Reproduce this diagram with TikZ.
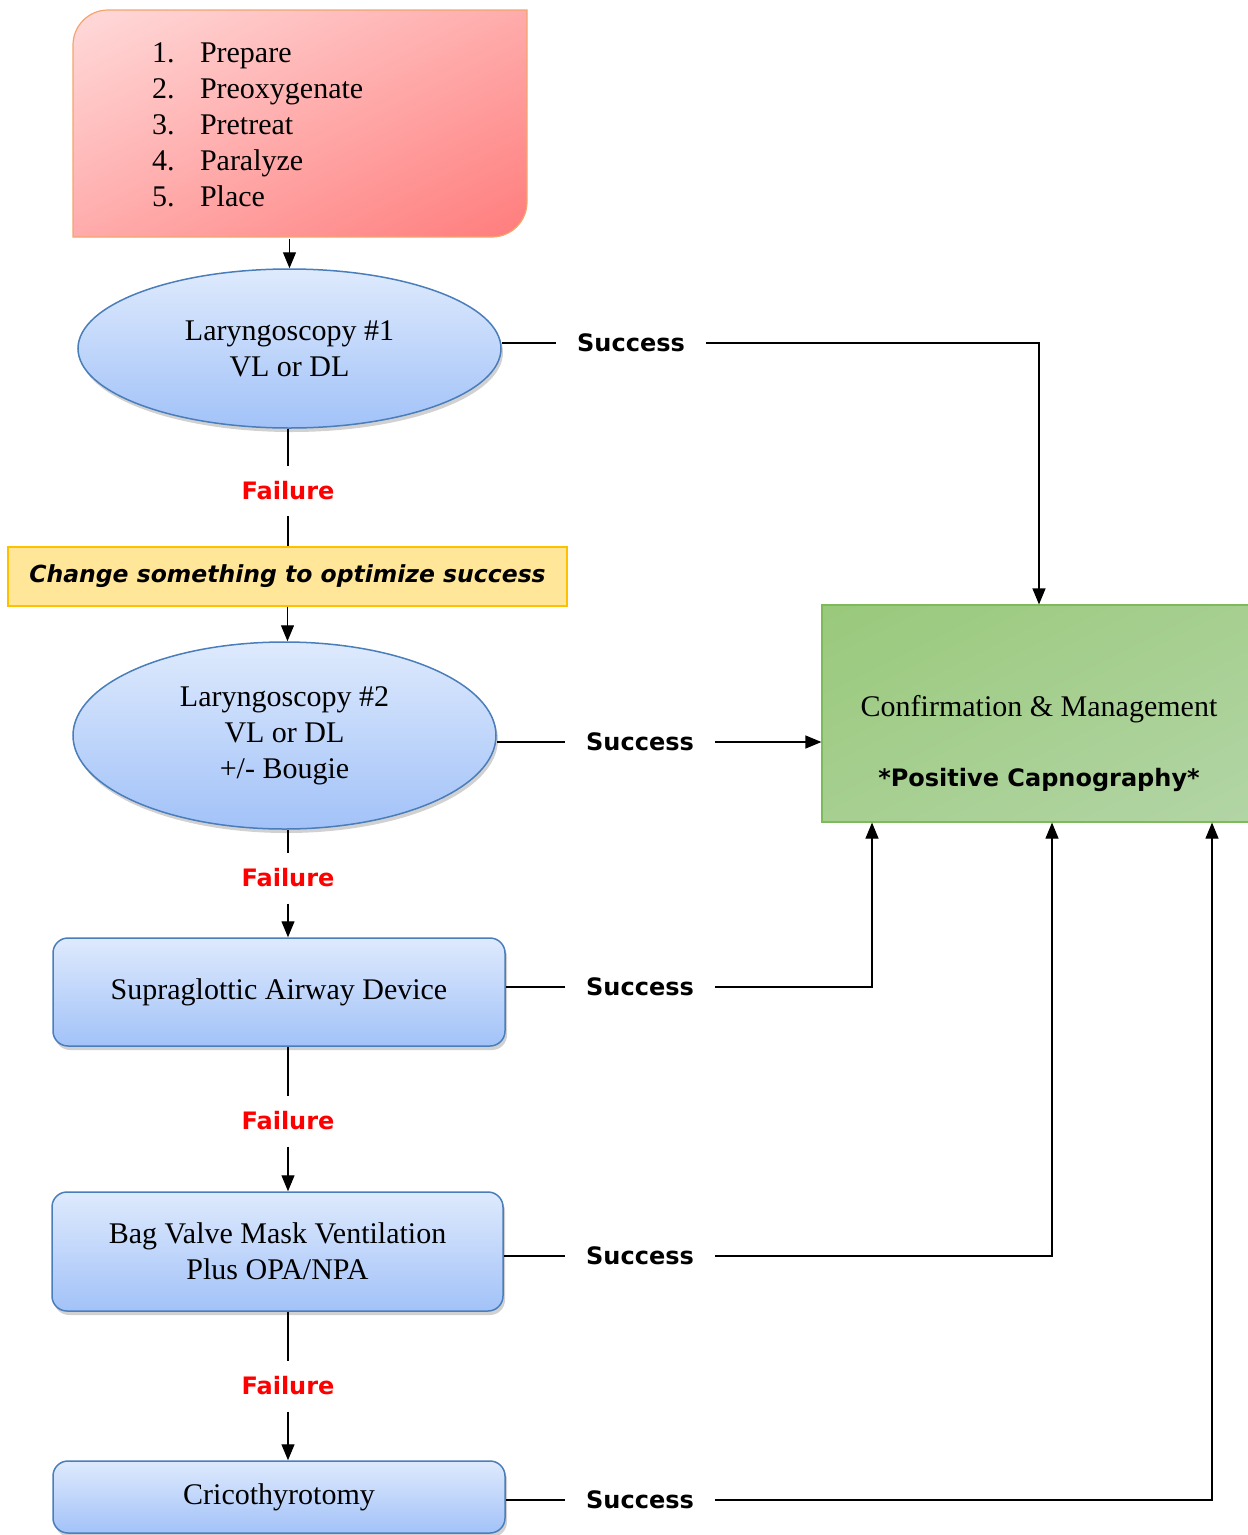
\documentclass[tikz,border=0pt]{standalone}
\usepackage{fontspec}
\setmainfont{Liberation Serif}
\newfontfamily\lblfont{DejaVu Sans}
\usetikzlibrary{shapes.geometric,arrows.meta,shadows,shadings,calc}

\definecolor{pinkA}{HTML}{FFDADA}
\definecolor{pinkB}{HTML}{FF7C7C}
\definecolor{pinkE}{HTML}{F4A46E}
\definecolor{blueA}{HTML}{DEEAFD}
\definecolor{blueB}{HTML}{A2C2F8}
\definecolor{blueE}{HTML}{4A7EBB}
\definecolor{yelF}{HTML}{FFE699}
\definecolor{yelE}{HTML}{FFC000}
\definecolor{grnA}{HTML}{99C97B}
\definecolor{grnB}{HTML}{B3D5A6}
\definecolor{grnE}{HTML}{7DBA5A}

\begin{document}
\begin{tikzpicture}[x=1pt,y=-1pt,
  serif/.style={font=\fontsize{30}{36}\selectfont},
  sansb/.style={font=\lblfont\bfseries\fontsize{24}{28}\selectfont},
  bluefill/.style={draw=blueE, line width=1.5pt, top color=blueA, bottom color=blueB,
    drop shadow={shadow xshift=2pt, shadow yshift=-4pt, opacity=0.3, fill=black!60}},
  ovalbox/.style={ellipse, bluefill, inner sep=0pt, serif, align=center},
  stepbox/.style={rectangle, rounded corners=15pt, bluefill, inner sep=0pt, serif, align=center},
  succ/.style={sansb, inner xsep=21pt, inner ysep=4pt},
  fail/.style={sansb, text=red, inner xsep=4pt, inner ysep=16pt},
  conn/.style={line width=1.2pt},
  arr/.style={conn, -{Triangle[length=16pt,width=13pt]}},
]
\useasboundingbox (0,0) rectangle (1248,1535);

% top box shape
\shade[draw=pinkE, line width=1.2pt, upper left=pinkA, lower right=pinkB,
  upper right=pinkA!50!pinkB, lower left=pinkA!50!pinkB]
  (73,237) -- (73,45) .. controls (73,25.7) and (88.7,10) .. (108,10)
  -- (527,10) -- (527,202) .. controls (527,221.3) and (511.3,237) .. (492,237) -- cycle;
\node[minimum width=454pt, minimum height=227pt, inner xsep=79pt, inner ysep=0pt,
  text width=296pt, align=left, serif] (p) at (300,125)
  {\makebox[48pt][l]{1.}Prepare\\
   \makebox[48pt][l]{2.}Preoxygenate\\
   \makebox[48pt][l]{3.}Pretreat\\
   \makebox[48pt][l]{4.}Paralyze\\
   \makebox[48pt][l]{5.}Place};

\node[ovalbox, minimum width=423pt, minimum height=159pt] (e1) at (289.5,348.5)
  {Laryngoscopy \#1\\VL or DL};
\node[draw=yelE, fill=yelF, line width=1.2pt, minimum width=559pt, minimum height=59pt,
  font=\lblfont\bfseries\itshape\fontsize{23.5}{28}\selectfont] (ch) at (287.5,576.5)
  {Change something to optimize success};
\node[ovalbox, minimum width=423pt, minimum height=187pt] (e2) at (284.5,735.5)
  {Laryngoscopy \#2\\VL or DL\\+/- Bougie};
\node[stepbox, minimum width=452pt, minimum height=108pt] (sad) at (279,992)
  {Supraglottic Airway Device};
\node[stepbox, minimum width=451pt, minimum height=119pt] (bvm) at (277.5,1251.5)
  {Bag Valve Mask Ventilation\\Plus OPA/NPA};
\node[stepbox, minimum width=452pt, minimum height=72pt] (cri) at (279,1497)
  {Cricothyrotomy};

\node[draw=grnE, line width=1.2pt, upper left=grnA, lower right=grnB,
  upper right=grnA!50!grnB, lower left=grnA!50!grnB,
  minimum width=434pt, minimum height=217pt] (cm) at (1039,713.5) {};
\node[serif] (cmt) at (1039,709) {Confirmation \& Management};
\node[sansb] (cmc) at (1039,780) {*Positive Capnography*};

\node[fail] (f1) at (288,491) {Failure};
\node[fail] (f2) at (288,878) {Failure};
\node[fail] (f3) at (288,1121) {Failure};
\node[fail] (f4) at (288,1386) {Failure};

\node[succ] (s1) at (631,343) {Success};
\node[succ] (s2) at (640,742) {Success};
\node[succ] (s3) at (640,987) {Success};
\node[succ] (s4) at (640,1256) {Success};
\node[succ] (s5) at (640,1500) {Success};

% vertical chain
\draw[arr] (e1.north |- p.south) -- (e1.north);
\draw[conn] (f1.north |- e1.south) -- (f1.north);
\draw[conn] (f1.south) -- (f1.south |- ch.north);
\draw[arr] (ch.south) -- (ch.south |- e2.north);
\draw[conn] (f2.north |- e2.south) -- (f2.north);
\draw[arr] (f2.south) -- (f2.south |- sad.north);
\draw[conn] (f3.north |- sad.south) -- (f3.north);
\draw[arr] (f3.south) -- (f3.south |- bvm.north);
\draw[conn] (f4.north |- bvm.south) -- (f4.north);
\draw[arr] (f4.south) -- (f4.south |- cri.north);

% success connectors
\draw[conn] (e1.east |- s1.west) -- (s1.west);
\draw[arr] (s1.east) -| (cm.north);
\draw[conn] (e2.east |- s2.west) -- (s2.west);
\draw[arr] (s2.east) -- (s2.east -| cm.west);
\draw[conn] (sad.east |- s3.west) -- (s3.west);
\draw[arr] (s3.east) -| (872,0 |- cm.south);
\draw[conn] (bvm.east |- s4.west) -- (s4.west);
\draw[arr] (s4.east) -| (1052,0 |- cm.south);
\draw[conn] (cri.east |- s5.west) -- (s5.west);
\draw[arr] (s5.east) -| (1212,0 |- cm.south);
\end{tikzpicture}
\end{document}
